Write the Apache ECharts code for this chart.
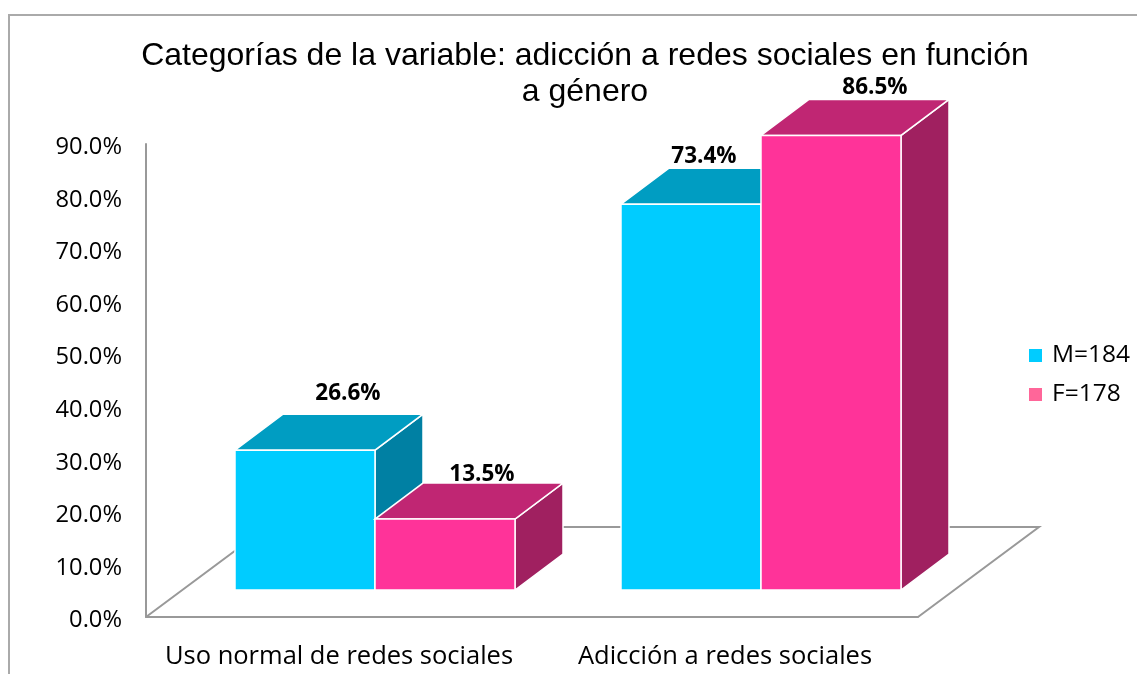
<!DOCTYPE html>
<html><head><meta charset="utf-8">
<style>html,body{margin:0;padding:0;background:#fff}#c{width:1137px;height:674px}</style>
<script src="https://cdn.jsdelivr.net/npm/echarts@6/dist/echarts.min.js"></script>
</head><body><div id="c"></div>
<script>
const categories = ['Uso normal de redes sociales', 'Adicción a redes sociales'];
const maleName = 'M=184';
const femaleName = 'F=178';
const maleValues = [26.6, 73.4];
const femaleValues = [13.5, 86.5];
const yTicks = [0, 10, 20, 30, 40, 50, 60, 70, 80, 90];

// perspective drawing settings (pixels)
const BAR_FRACTION = 0.3627, DEPTH_X = 48, DEPTH_Y = 36, SHIFT_X = 36, SHIFT_Y = 27;
const FLOOR_X = 121, FLOOR_Y = 90;
const maleLabelNudge = [[-5, -21], [-35, -12]];
const femaleLabelNudge = [[-11, -8], [-4, -12]];
const SANS = '"Open Sans", Lato, sans-serif';

function prism(side, colors, nudges) {
  return function (params, api) {
    const i = params.dataIndex;
    const top = api.coord([api.value(0), api.value(1)]);
    const base = api.coord([api.value(0), 0]);
    const w = api.size([1, 0])[0] * BAR_FRACTION;
    const xl = base[0] + SHIFT_X + (side < 0 ? -w : 0);
    const xr = xl + w;
    const yb = base[1] - SHIFT_Y;
    const yt = top[1] - SHIFT_Y;
    const edge = { stroke: '#ffffff', lineWidth: 1.5, lineJoin: 'miter' };
    const poly = (pts, fill) => ({
      type: 'polygon', shape: { points: pts },
      style: Object.assign({ fill: fill }, edge)
    });
    return {
      type: 'group',
      children: [
        poly([[xr, yb], [xr + DEPTH_X, yb - DEPTH_Y], [xr + DEPTH_X, yt - DEPTH_Y], [xr, yt]], colors.side),
        poly([[xl, yt], [xr, yt], [xr + DEPTH_X, yt - DEPTH_Y], [xl + DEPTH_X, yt - DEPTH_Y]], colors.top),
        poly([[xl, yb], [xr, yb], [xr, yt], [xl, yt]], colors.front),
        {
          type: 'text', z2: 10,
          style: {
            x: xl + DEPTH_X + w / 2 + nudges[i][0],
            y: yt - DEPTH_Y + nudges[i][1],
            text: api.value(1).toFixed(1) + '%',
            fill: '#000', font: 'bold 22.5px ' + SANS,
            align: 'center', verticalAlign: 'middle'
          }
        }
      ]
    };
  };
}

function floor(params, api) {
  const c = params.coordSys;
  const x0 = c.x, x1 = c.x + c.width, y = c.y + c.height;
  return {
    type: 'polyline',
    shape: { points: [[x0, y], [x0 + FLOOR_X, y - FLOOR_Y], [x1 + FLOOR_X, y - FLOOR_Y], [x1, y]] },
    style: { fill: 'none', stroke: '#999999', lineWidth: 2 }
  };
}

const chart = echarts.init(document.getElementById('c'), null, { renderer: 'canvas' });
chart.setOption({
  animation: false,
  backgroundColor: '#ffffff',
  title: {
    text: 'Categorías de la variable: adicción a redes sociales en función\na género',
    left: 580, top: 33, textAlign: 'center',
    textStyle: { fontFamily: '"Liberation Sans", Arial, sans-serif', fontWeight: 'normal', fontSize: 32, lineHeight: 36, color: '#000' }
  },
  legend: {
    orient: 'vertical', left: 1024, top: 338, icon: 'rect',
    itemWidth: 13, itemHeight: 13, itemGap: 14,
    textStyle: { fontFamily: SANS, fontSize: 24.5, color: '#000', padding: [0, 0, 0, 5] },
    data: [
      { name: maleName, itemStyle: { color: '#00ccff' } },
      { name: femaleName, itemStyle: { color: '#ff6699' } }
    ]
  },
  grid: { left: 146, right: 219, top: 144, bottom: 57 },
  xAxis: {
    type: 'category', data: categories,
    axisLine: { lineStyle: { color: '#999999', width: 2 } },
    axisTick: { show: false },
    axisLabel: { color: '#000', fontFamily: SANS, fontSize: 25.5, margin: 27, interval: 0 }
  },
  yAxis: {
    type: 'value', min: 0, max: 90, interval: 10,
    axisLine: { show: true, lineStyle: { color: '#999999', width: 2 } },
    axisTick: { show: false },
    splitLine: { show: false },
    axisLabel: {
      color: '#000', fontFamily: SANS, fontSize: 23.7, margin: 24,
      formatter: v => '{t|' + v.toFixed(1) + '%}',
      rich: { t: { color: '#000', fontFamily: SANS, fontSize: 23.7, padding: [7, 0, 0, 0] } }
    }
  },
  graphic: [{
    type: 'polyline', silent: true, z: -1,
    shape: { points: [[9, 674], [9, 15], [1137, 15]] },
    style: { fill: 'none', stroke: '#aaaaaa', lineWidth: 2 }
  }],
  series: [
    { type: 'custom', name: 'floor', renderItem: floor, data: [[0, 0]], encode: { x: 0, y: 1 }, clip: false, silent: true, z: 1 },
    {
      type: 'custom', name: maleName, clip: false, silent: true, z: 2,
      encode: { x: 0, y: 1 },
      itemStyle: { color: '#00ccff' },
      renderItem: prism(-1, { front: '#00ccff', top: '#009dc2', side: '#0080a3' }, maleLabelNudge),
      data: maleValues.map((v, i) => [i, v])
    },
    {
      type: 'custom', name: femaleName, clip: false, silent: true, z: 3,
      encode: { x: 0, y: 1 },
      itemStyle: { color: '#ff6699' },
      renderItem: prism(1, { front: '#ff3399', top: '#c02673', side: '#a02060' }, femaleLabelNudge),
      data: femaleValues.map((v, i) => [i, v])
    }
  ]
});
</script></body></html>
